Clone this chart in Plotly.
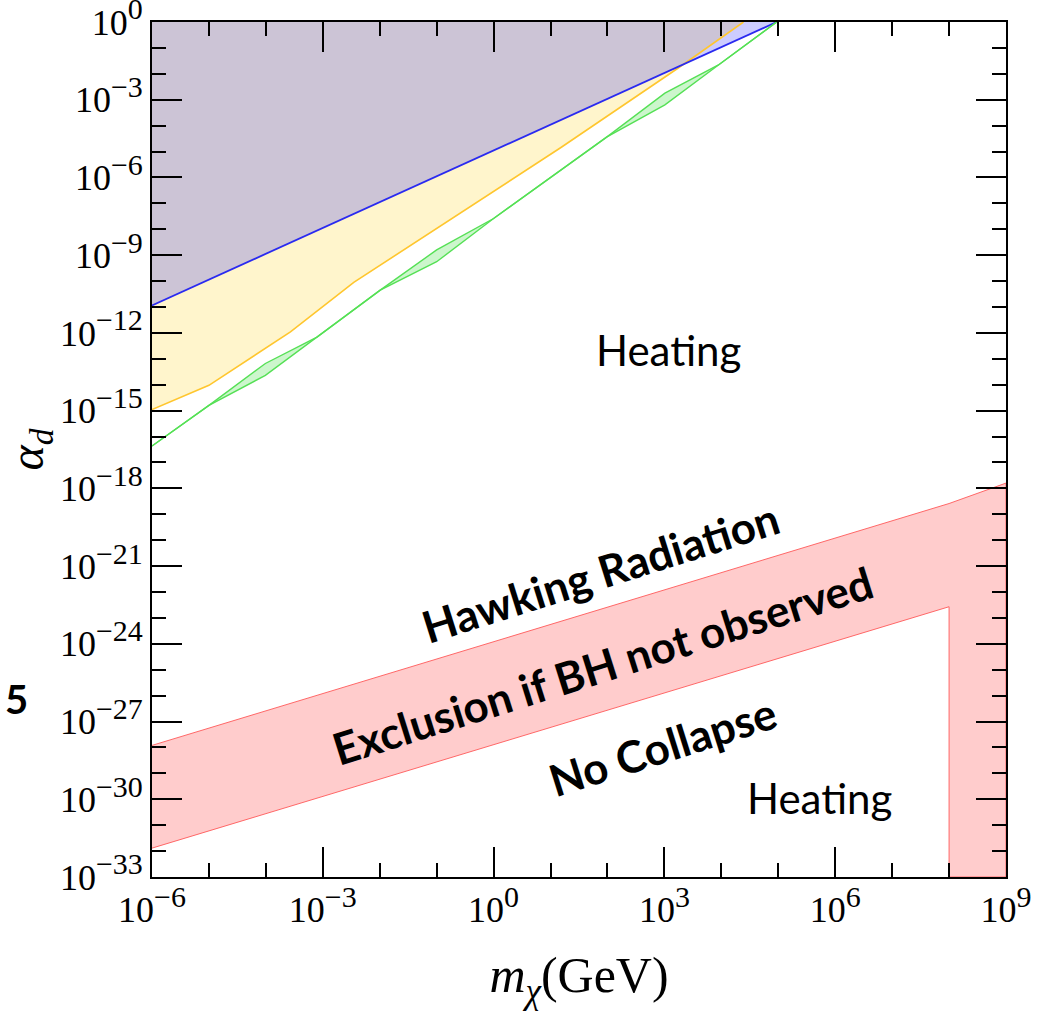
import plotly.graph_objects as go

# ---------------- data ----------------
# blue boundary
blue_m = [1e-6, 9.4e4]
blue_a = [1.15e-11, 1.0]

# orange/yellow boundary
orange_m = [1e-6, 1e-5, 2.7e-4, 3.5e-3, 15, 1.7e3, 2.45e4]
orange_a = [1.1e-15, 9.5e-15, 1.1e-12, 8.9e-11, 1.4e-5, 1.6e-2, 1.0]

# green band (upper / lower edges)
green_m = [1e-6, 1e-5, 9.8e-5, 7.9e-4, 1.02e-2, 0.1, 1.0, 98, 1.02e3, 8.9e3, 9.4e4]
green_up = [4.3e-17, 1.6e-15, 6.6e-14, 6.9e-13, 4.5e-11, 1.6e-9, 2.6e-8, 3.7e-5, 1.8e-3, 2.2e-2, 1.0]
green_lo = [4.3e-17, 1.6e-15, 2.3e-14, 6.9e-13, 4.5e-11, 5.6e-10, 2.6e-8, 3.7e-5, 6.3e-4, 2.2e-2, 1.0]

# red band (Hawking radiation / no collapse)
red_up_m = [1e-6, 1e8, 1e9]
red_up_a = [1.2e-28, 2.6e-19, 1.6e-18]
red_lo_m = [1e-6, 1e8]
red_lo_a = [1.3e-32, 2.7e-23]
red_cut_m = 1e8

# axis
x_range = [1e-6, 1e9]
y_range = [1e-33, 1.0]
x_major = [1e-6, 1e-3, 1e0, 1e3, 1e6, 1e9]
x_major_exp = ["−6", "−3", "0", "3", "6", "9"]
x_minor = [10.0 ** k for k in range(-6, 10)]
y_major = [10.0 ** k for k in range(0, -34, -3)]
y_major_exp = ["0", "−3", "−6", "−9", "−12", "−15", "−18", "−21", "−24", "−27", "−30", "−33"]
y_minor = [10.0 ** k for k in range(0, -34, -1)]


def power_label(e):
    return "10<sup><span style='font-size:30px'>%s</span></sup>" % e


fig = go.Figure()

# yellow region (above orange line)
fig.add_trace(go.Scatter(
    x=orange_m + [x_range[0]], y=orange_a + [y_range[1]],
    mode="lines", fill="toself", fillcolor="rgba(255,204,0,0.2)",
    line=dict(width=0), hoverinfo="skip", showlegend=False))
# blue region (above blue line)
fig.add_trace(go.Scatter(
    x=blue_m + [x_range[0]], y=blue_a + [y_range[1]],
    mode="lines", fill="toself", fillcolor="rgba(0,0,255,0.2)",
    line=dict(width=0), hoverinfo="skip", showlegend=False))
# orange line
fig.add_trace(go.Scatter(x=orange_m, y=orange_a, mode="lines",
                         line=dict(color="#ffc62e", width=1.6), showlegend=False))
# blue line
fig.add_trace(go.Scatter(x=blue_m, y=blue_a, mode="lines",
                         line=dict(color="#2a2af0", width=1.8), showlegend=False))
# green band
fig.add_trace(go.Scatter(x=green_m, y=green_lo, mode="lines",
                         line=dict(color="#55e055", width=1.4), showlegend=False))
fig.add_trace(go.Scatter(x=green_m, y=green_up, mode="lines", fill="tonexty",
                         fillcolor="rgba(0,210,0,0.2)",
                         line=dict(color="#55e055", width=1.4), showlegend=False))

# red region
red_x = red_up_m + [x_range[1], red_cut_m] + red_lo_m[::-1]
red_y = red_up_a + [y_range[0], y_range[0]] + red_lo_a[::-1]
fig.add_trace(go.Scatter(x=red_x, y=red_y, mode="lines", fill="toself",
                         fillcolor="rgba(255,0,0,0.2)",
                         line=dict(color="rgba(255,90,90,0.9)", width=1),
                         showlegend=False))

serif = "Liberation Serif, DejaVu Serif, serif"
sans = "Lato, Open Sans, sans-serif"

axis_common = dict(
    type="log", showgrid=False, zeroline=False, automargin=False,
    showline=True, linecolor="black", linewidth=2, mirror="ticks",
    ticks="inside", ticklen=30, tickwidth=2, tickcolor="black",
    ticklabeloverflow="allow",
    tickfont=dict(family=serif, size=36, color="black"),
)

fig.update_xaxes(
    range=[-6, 9], tickmode="array", tickvals=x_major,
    ticktext=[power_label(e) for e in x_major_exp],
    minor=dict(tickmode="array", tickvals=x_minor, ticks="inside",
               ticklen=14, tickwidth=2, tickcolor="black"),
    title=dict(text="<i>m</i><sub><i>χ</i></sub>(GeV)",
               font=dict(family=serif, size=50, color="black"), standoff=34),
    **axis_common)
fig.update_yaxes(
    range=[-33, 0], tickmode="array", tickvals=y_major,
    ticktext=[power_label(e) for e in y_major_exp],
    minor=dict(tickmode="array", tickvals=y_minor, ticks="inside",
               ticklen=14, tickwidth=2, tickcolor="black"),
    title=dict(text="<i>α<sub>d</sub></i>",
               font=dict(family=serif, size=48, color="black"), standoff=6),
    **axis_common)

anns = [
    dict(text="Heating", x=3.08, y=-12.66, angle=0, bold=False, size=42),
    dict(text="Heating", x=5.72, y=-29.96, angle=0, bold=False, size=42),
    dict(text="Hawking Radiation", x=1.87, y=-21.24, angle=-17.5, bold=True, size=44),
    dict(text="Exclusion if BH not observed", x=1.92, y=-24.83, angle=-17.5, bold=True, size=44),
    dict(text="No Collapse", x=2.96, y=-27.95, angle=-17.5, bold=True, size=44),
]
for a in anns:
    txt = "<b>%s</b>" % a["text"] if a["bold"] else a["text"]
    fig.add_annotation(x=a["x"], y=a["y"], xref="x", yref="y", text=txt,
                       showarrow=False, textangle=a["angle"],
                       xanchor="center", yanchor="middle",
                       font=dict(family=sans, size=a["size"], color="black"))

fig.add_annotation(x=-0.159, y=0.208, xref="paper", yref="paper",
                   text="<b>5</b>", showarrow=False, xanchor="center",
                   yanchor="middle",
                   font=dict(family=sans, size=40, color="black"))

fig.update_layout(
    width=1043, height=1011,
    margin=dict(l=152, r=37, t=22, b=134, autoexpand=False),
    plot_bgcolor="white", paper_bgcolor="white",
    showlegend=False,
)

# remove the default page margin so the figure fills the window exactly
fig.write_html("out.html",
               config={"displayModeBar": False},
               post_script="document.body.style.margin='0';"
                           "document.body.style.overflow='hidden';")
